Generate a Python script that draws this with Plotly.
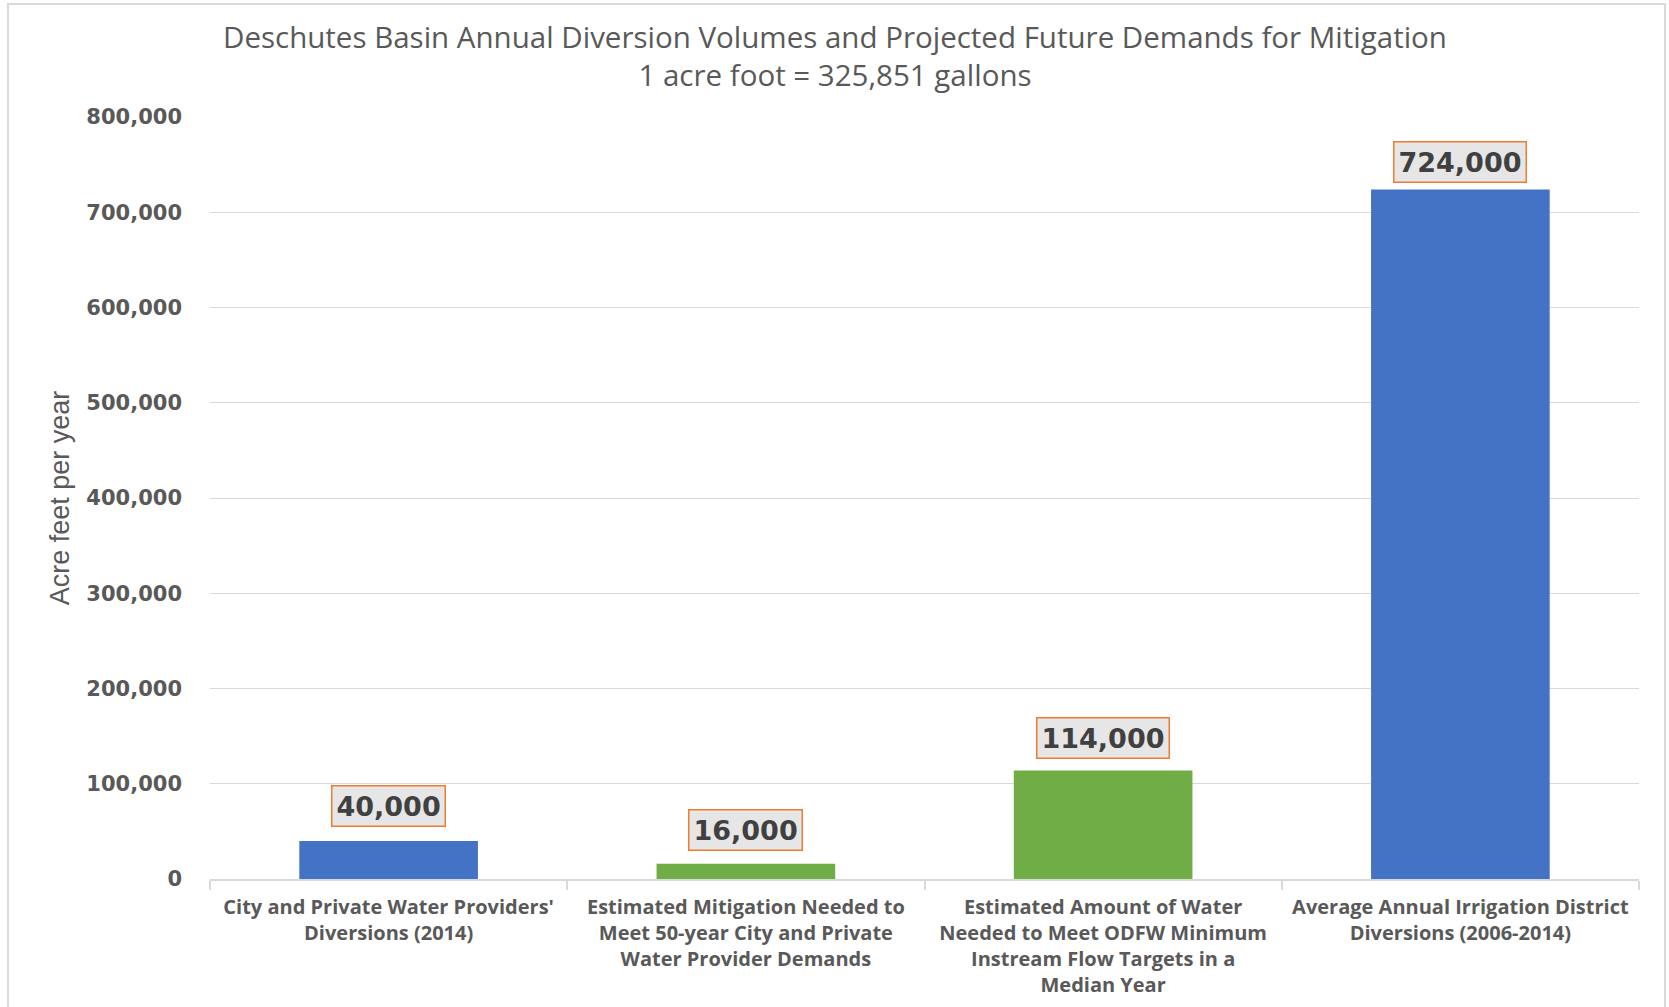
import plotly.graph_objects as go

categories = [
    "City and Private Water Providers'<br>Diversions (2014)",
    "Estimated Mitigation Needed to<br>Meet 50-year City and Private<br>Water Provider Demands",
    "Estimated Amount of Water<br>Needed to Meet ODFW Minimum<br>Instream Flow Targets in a<br>Median Year",
    "Average Annual Irrigation District<br>Diversions (2006-2014)",
]
values = [40000, 16000, 114000, 724000]
bar_colors = ["#4472C4", "#70AD47", "#70AD47", "#4472C4"]
label_shift = [14, 13, 11, 6]
title_lines = [
    "Deschutes Basin Annual Diversion Volumes and Projected Future Demands for Mitigation",
    "1 acre foot = 325,851 gallons",
]

W, H = 1669, 1007
L, R, T, B = 210, 30, 117, 128
pw, ph = W - L - R, H - T - B


def py(pix):
    return (H - B - pix) / ph


def px(pix):
    return (pix - L) / pw


fig = go.Figure()
fig.add_trace(go.Bar(
    x=categories, y=values, marker=dict(color=bar_colors, line=dict(width=0)),
    width=0.5, hoverinfo="skip",
))

for c, v, s in zip(categories, values, label_shift):
    fig.add_annotation(
        x=c, y=v, xref="x", yref="y", text=f"{v:,}", showarrow=False,
        yanchor="bottom", yshift=s,
        font=dict(family="DejaVu Sans", size=27, color="#404040", weight="bold"),
        bgcolor="#E7E6E6", bordercolor="#ED7D31", borderwidth=1.5, borderpad=4,
    )

fig.add_annotation(
    x=px(W / 2), y=py(56), xref="paper", yref="paper", text="<br>".join(title_lines),
    showarrow=False, xanchor="center", yanchor="middle",
    font=dict(family="Open Sans", size=29.5, color="#595959"),
)

# outer chart border
fig.add_shape(type="rect", xref="paper", yref="paper",
              x0=px(8), x1=px(1665), y0=py(1100), y1=py(4),
              line=dict(color="#D9D9D9", width=2), fillcolor="rgba(0,0,0,0)", layer="below")

fig.update_layout(
    width=W, height=H,
    margin=dict(l=L, r=R, t=T, b=B, pad=0, autoexpand=False),
    paper_bgcolor="white", plot_bgcolor="white",
    showlegend=False,
    bargap=0.5,
)
fig.update_xaxes(
    type="category", tickson="boundaries", ticks="outside", ticklen=9,
    tickcolor="#D9D9D9", tickwidth=1.5, automargin=False,
    showline=True, linecolor="#D9D9D9", linewidth=1.5, showgrid=False,
    ticklabelstandoff=9,
    tickfont=dict(family="Open Sans", size=20, color="#595959", weight="bold"),
)
fig.update_yaxes(
    range=[0, 800000], dtick=100000, tickformat=",", automargin=False,
    showgrid=True, gridcolor="#D9D9D9", gridwidth=1.2, zeroline=False,
    ticks="", ticklabelstandoff=27,
    tickfont=dict(family="DejaVu Sans", size=21, color="#595959", weight="bold"),
    title=dict(text="Acre feet per year", standoff=8,
               font=dict(family="Liberation Sans", size=27, color="#595959")),
)

fig.write_html("out.html")
